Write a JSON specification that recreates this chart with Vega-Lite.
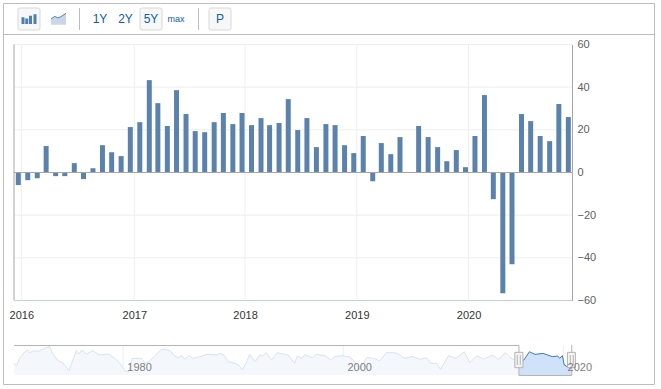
{
"$schema":"https://vega.github.io/schema/vega-lite/v6.json",
"width":661,"height":389,"padding":0,"autosize":{"type":"none"},"background":"white",
"config":{"view":{"stroke":null},"text":{"font":"Liberation Sans"},"axis":{"labelFont":"Liberation Sans"}},
"datasets":{
"bars":[
{"date":"2015-12-22","value":-5.9},{"date":"2016-01-22","value":-3.6},{"date":"2016-02-22","value":-2.7},{"date":"2016-03-22","value":12.4},{"date":"2016-04-22","value":-1.7},{"date":"2016-05-22","value":-1.7},{"date":"2016-06-22","value":4.4},{"date":"2016-07-22","value":-3.1},{"date":"2016-08-22","value":2.0},{"date":"2016-09-22","value":12.8},{"date":"2016-10-22","value":9.5},{"date":"2016-11-22","value":7.7},
{"date":"2016-12-22","value":21.3},{"date":"2017-01-22","value":23.6},{"date":"2017-02-22","value":43.3},{"date":"2017-03-22","value":32.5},{"date":"2017-04-22","value":21.8},{"date":"2017-05-22","value":38.6},{"date":"2017-06-22","value":27.4},{"date":"2017-07-22","value":19.4},{"date":"2017-08-22","value":18.9},{"date":"2017-09-22","value":23.6},{"date":"2017-10-22","value":27.9},{"date":"2017-11-22","value":22.7},
{"date":"2017-12-22","value":27.9},{"date":"2018-01-22","value":22.2},{"date":"2018-02-22","value":25.5},{"date":"2018-03-22","value":22.2},{"date":"2018-04-22","value":23.2},{"date":"2018-05-22","value":34.4},{"date":"2018-06-22","value":19.9},{"date":"2018-07-22","value":25.5},{"date":"2018-08-22","value":11.9},{"date":"2018-09-22","value":22.7},{"date":"2018-10-22","value":22.2},{"date":"2018-11-22","value":12.8},
{"date":"2018-12-22","value":9.1},{"date":"2019-01-22","value":17.1},{"date":"2019-02-22","value":-4.1},{"date":"2019-03-22","value":13.8},{"date":"2019-04-22","value":8.6},{"date":"2019-05-22","value":16.6},{"date":"2019-06-22","value":0.2},{"date":"2019-07-22","value":21.8},{"date":"2019-08-22","value":16.6},{"date":"2019-09-22","value":11.9},{"date":"2019-10-22","value":5.3},{"date":"2019-11-22","value":10.5},
{"date":"2019-12-22","value":2.5},{"date":"2020-01-22","value":17.1},{"date":"2020-02-22","value":36.3},{"date":"2020-03-22","value":-12.5},{"date":"2020-04-22","value":-56.6},{"date":"2020-05-22","value":-43},{"date":"2020-06-22","value":27.4},{"date":"2020-07-22","value":24.1},{"date":"2020-08-22","value":17.1},{"date":"2020-09-22","value":14.7},{"date":"2020-10-22","value":32.1},{"date":"2020-11-22","value":26}
],
"history":[
{"date":"1970-02-01","v":-43},{"date":"1970-05-01","v":-60},{"date":"1970-08-01","v":-1},{"date":"1971-02-01","v":54},{"date":"1971-05-01","v":68},{"date":"1971-07-01","v":46},{"date":"1971-11-01","v":60},{"date":"1972-06-01","v":60},{"date":"1972-11-01","v":82},{"date":"1973-05-01","v":96},{"date":"1973-08-01","v":40},{"date":"1974-02-01","v":-21},{"date":"1974-07-01","v":-37},{"date":"1975-02-01","v":-104},{"date":"1975-05-01","v":-43},{"date":"1975-10-01","v":63},{"date":"1976-01-01","v":35},{"date":"1976-04-01","v":68},{"date":"1976-09-01","v":35},{"date":"1977-04-01","v":63},{"date":"1977-11-01","v":27},{"date":"1978-09-01","v":35},{"date":"1979-04-01","v":-1},{"date":"1979-09-01","v":-37},{"date":"1980-03-01","v":-104},{"date":"1980-07-01","v":-112},{"date":"1980-11-01","v":-1},{"date":"1981-09-01","v":-1},{"date":"1982-01-01","v":-43},{"date":"1982-06-01","v":-21},{"date":"1982-11-01","v":13},{"date":"1983-07-01","v":77},{"date":"1984-04-01","v":63},{"date":"1984-09-01","v":21},{"date":"1985-01-01","v":4},{"date":"1985-05-01","v":21},{"date":"1985-08-01","v":-7},{"date":"1986-01-01","v":21},{"date":"1986-05-01","v":-1},{"date":"1987-01-01","v":13},{"date":"1987-08-01","v":32},{"date":"1988-07-01","v":27},{"date":"1988-11-01","v":40},{"date":"1989-03-01","v":27},{"date":"1989-08-01","v":-29},{"date":"1990-03-01","v":-43},{"date":"1990-07-01","v":-57},{"date":"1990-11-01","v":-98},{"date":"1991-02-01","v":-57},{"date":"1991-07-01","v":32},{"date":"1992-01-01","v":-29},{"date":"1992-06-01","v":27},{"date":"1992-09-01","v":18},{"date":"1993-01-01","v":46},{"date":"1993-07-01","v":-15},{"date":"1994-01-01","v":46},{"date":"1995-01-01","v":27},{"date":"1995-08-01","v":-43},{"date":"1995-11-01","v":18},{"date":"1996-04-01","v":-1},{"date":"1996-07-01","v":29},{"date":"1997-03-01","v":4},{"date":"1997-08-01","v":32},{"date":"1998-05-01","v":21},{"date":"1998-11-01","v":-15},{"date":"1999-04-01","v":13},{"date":"1999-11-01","v":21},{"date":"2000-07-01","v":13},{"date":"2000-12-01","v":-15},{"date":"2001-07-01","v":-93},{"date":"2002-03-01","v":7},{"date":"2002-10-01","v":-1},{"date":"2003-05-01","v":-21},{"date":"2003-12-01","v":46},{"date":"2004-09-01","v":46},{"date":"2005-01-01","v":35},{"date":"2005-08-01","v":-1},{"date":"2006-04-01","v":13},{"date":"2007-01-01","v":-9},{"date":"2007-08-01","v":4},{"date":"2007-12-01","v":-43},{"date":"2008-07-01","v":-43},{"date":"2008-11-01","v":-93},{"date":"2009-08-01","v":21},{"date":"2010-04-01","v":-1},{"date":"2011-01-01","v":54},{"date":"2011-07-01","v":-37},{"date":"2012-03-01","v":21},{"date":"2012-10-01","v":-9},{"date":"2013-08-01","v":27},{"date":"2014-02-01","v":-9},{"date":"2014-10-01","v":46},{"date":"2015-03-01","v":7},{"date":"2015-08-01","v":-15},{"date":"2015-12-20","v":-27}
],
"selected":[
{"date":"2015-12-20","v":-27},{"date":"2016-02-01","v":-29},{"date":"2016-06-01","v":-15},{"date":"2016-12-01","v":54},{"date":"2017-06-01","v":32},{"date":"2018-03-01","v":40},{"date":"2019-01-01","v":13},{"date":"2019-07-01","v":18},{"date":"2019-09-01","v":-1},{"date":"2019-12-01","v":21},{"date":"2020-02-01","v":-57},{"date":"2020-07-01","v":-76},{"date":"2020-10-08","v":-76}
],
"navFrame":[
{"a":"1970-02-01","b":"2015-12-20","lo":106,"hi":106},
{"a":"2015-12-20","b":"2015-12-20","lo":-144,"hi":106},
{"a":"2015-12-20","b":"2020-10-08","lo":-144,"hi":-144},
{"a":"2020-10-08","b":"2020-10-08","lo":-144,"hi":110}
],
"navHandles":[
{"a":"2015-08-05","b":"2016-05-01","lo":-79,"hi":49},
{"a":"2020-05-20","b":"2021-02-05","lo":-79,"hi":49}
],
"navGrips":[
{"a":"2015-10-25","lo":-57,"hi":26},{"a":"2016-02-03","lo":-57,"hi":26},{"a":"2020-08-20","lo":-57,"hi":26},{"a":"2020-11-25","lo":-57,"hi":26}
],
"navGrid":[{"a":"1980-01-01","lo":-140,"hi":106},{"a":"2000-01-01","lo":-140,"hi":106},{"a":"2020-01-01","lo":-140,"hi":106}],
"gridX":[{"date":"2016-01-01"},{"date":"2017-01-04"},{"date":"2018-01-01"},{"date":"2019-01-01"},{"date":"2020-01-01"}],
"gridY":[{"v":40,"s":"2015-12-08","e":"2020-12-04"},{"v":20,"s":"2015-12-08","e":"2020-12-04"},{"v":-20,"s":"2015-12-08","e":"2020-12-04"},{"v":-40,"s":"2015-12-08","e":"2020-12-04"},{"v":60,"s":"2015-12-08","e":"2020-12-04"}],
"toolbar":[
{"item":"bars","slot":0,"kind":"button"},{"item":"5Y","slot":5,"kind":"button"},{"item":"P","slot":8,"kind":"button"},
{"item":"sep1","slot":2,"kind":"sep"},{"item":"sep2","slot":7,"kind":"sep"},
{"item":"1Y","slot":3,"kind":"label"},{"item":"2Y","slot":4,"kind":"label"},{"item":"5Y","slot":5,"kind":"label"},{"item":"P","slot":8,"kind":"label"},{"item":"max","slot":6,"kind":"small"},
{"item":"barIcon","slot":0,"kind":"barIcon"},{"item":"lineIcon","slot":1,"kind":"lineIcon"}
]
},
"data":{"values":[{"a":0,"b":1}]},
"resolve":{"scale":{"x":"independent","y":"independent"},"axis":{"x":"independent","y":"independent"}},
"layer":[
{"mark":{"type":"rect","fill":null,"stroke":"#bdbdbd","strokeWidth":1},
 "data":{"values":[{"a":0,"b":1,"lo":0,"hi":1}]},
 "encoding":{"x":{"field":"a","type":"quantitative","axis":null,"scale":{"domain":[0,1],"range":[3.5,654.5]}},"x2":{"field":"b"},"y":{"field":"lo","type":"quantitative","axis":null,"scale":{"domain":[0,1],"range":[3.5,384.5]}},"y2":{"field":"hi"}}},
{"mark":{"type":"rule","stroke":"#bdbdbd","strokeWidth":1},
 "data":{"values":[{"a":0,"b":1,"lo":0.0814}]},
 "encoding":{"x":{"field":"a","type":"quantitative","axis":null,"scale":{"domain":[0,1],"range":[3.5,654.5]}},"x2":{"field":"b"},"y":{"field":"lo","type":"quantitative","axis":null,"scale":{"domain":[0,1],"range":[3.5,384.5]}}}},
{"data":{"name":"toolbar"},"transform":[{"filter":"datum.kind=='button'"}],
 "mark":{"type":"point","filled":true,"fill":"#f7f7f7","stroke":"#d9d9d9","strokeWidth":1,"opacity":1,"size":484,"shape":"M-0.82,-1H0.82Q1,-1 1,-0.82V0.82Q1,1 0.82,1H-0.82Q-1,1 -1,0.82V-0.82Q-1,-1 -0.82,-1Z"},
 "encoding":{"x":{"field":"slot","type":"quantitative","axis":null,"scale":{"domain":[0,1,2,3,4,5,6,7,8],"range":[29,58.5,79.5,100,125.5,151,176,198.5,220],"nice":false,"zero":false}},"y":{"datum":0.5,"type":"quantitative","axis":null,"scale":{"domain":[0,1],"range":[8,30]}}}},
{"data":{"name":"toolbar"},"transform":[{"filter":"datum.kind=='sep'"}],
 "mark":{"type":"rule","stroke":"#bdbdbd","strokeWidth":1},
 "encoding":{"x":{"field":"slot","type":"quantitative","axis":null,"scale":{"domain":[0,1,2,3,4,5,6,7,8],"range":[29,58.5,79.5,100,125.5,151,176,198.5,220],"nice":false,"zero":false}},"y":{"datum":0,"type":"quantitative","axis":null,"scale":{"domain":[0,1],"range":[8,30]}},"y2":{"datum":1}}},
{"data":{"name":"toolbar"},"transform":[{"filter":"datum.kind=='label'"}],
 "mark":{"type":"text","fontSize":12,"color":"#0b5ea8","align":"center","baseline":"middle"},
 "encoding":{"text":{"field":"item"},"x":{"field":"slot","type":"quantitative","axis":null,"scale":{"domain":[0,1,2,3,4,5,6,7,8],"range":[29,58.5,79.5,100,125.5,151,176,198.5,220],"nice":false,"zero":false}},"y":{"datum":0.5,"type":"quantitative","axis":null,"scale":{"domain":[0,1],"range":[8,30]}}}},
{"data":{"name":"toolbar"},"transform":[{"filter":"datum.kind=='small'"}],
 "mark":{"type":"text","fontSize":9,"color":"#0b5ea8","align":"center","baseline":"middle"},
 "encoding":{"text":{"field":"item"},"x":{"field":"slot","type":"quantitative","axis":null,"scale":{"domain":[0,1,2,3,4,5,6,7,8],"range":[29,58.5,79.5,100,125.5,151,176,198.5,220],"nice":false,"zero":false}},"y":{"datum":0.5,"type":"quantitative","axis":null,"scale":{"domain":[0,1],"range":[8,30]}}}},
{"data":{"name":"toolbar"},"transform":[{"filter":"datum.kind=='barIcon'"}],
 "mark":{"type":"point","filled":true,"fill":"#4f7fb2","stroke":null,"opacity":1,"size":225,"shape":"M-1,-0.25H-0.6V0.65H-1ZM-0.5,-0.07H-0.1V0.65H-0.5ZM0,-0.42H0.4V0.65H0ZM0.6,-0.64H1V0.65H0.6Z"},
 "encoding":{"x":{"field":"slot","type":"quantitative","axis":null,"scale":{"domain":[0,1,2,3,4,5,6,7,8],"range":[29,58.5,79.5,100,125.5,151,176,198.5,220],"nice":false,"zero":false}},"y":{"datum":0.5,"type":"quantitative","axis":null,"scale":{"domain":[0,1],"range":[8,30]}}}},
{"data":{"name":"toolbar"},"transform":[{"filter":"datum.kind=='lineIcon'"}],
 "mark":{"type":"point","filled":true,"fill":"#c9d6ea","stroke":null,"opacity":1,"size":225,"shape":"M-1,0L-0.5,-0.35L-0.1,-0.15L0.3,-0.3L1,-0.75V0.75H-1Z"},
 "encoding":{"x":{"field":"slot","type":"quantitative","axis":null,"scale":{"domain":[0,1,2,3,4,5,6,7,8],"range":[29,58.5,79.5,100,125.5,151,176,198.5,220],"nice":false,"zero":false}},"y":{"datum":0.5,"type":"quantitative","axis":null,"scale":{"domain":[0,1],"range":[8,30]}}}},
{"data":{"name":"toolbar"},"transform":[{"filter":"datum.kind=='lineIcon'"}],
 "mark":{"type":"point","filled":false,"stroke":"#4f7fb2","strokeWidth":1,"opacity":1,"size":225,"shape":"M-1,0L-0.5,-0.35L-0.1,-0.15L0.3,-0.3L1,-0.75"},
 "encoding":{"x":{"field":"slot","type":"quantitative","axis":null,"scale":{"domain":[0,1,2,3,4,5,6,7,8],"range":[29,58.5,79.5,100,125.5,151,176,198.5,220],"nice":false,"zero":false}},"y":{"datum":0.5,"type":"quantitative","axis":null,"scale":{"domain":[0,1],"range":[8,30]}}}},
{"data":{"name":"gridX"},"mark":{"type":"rule","stroke":"#eeeeee","strokeWidth":1},
 "encoding":{"x":{"field":"date","type":"temporal","axis":null,"scale":{"type":"utc","domain":["2015-12-08","2020-12-04"],"range":[14,572]}},"y":{"datum":-60,"type":"quantitative","axis":null,"scale":{"domain":[-60,60],"range":[300.5,44.5],"nice":false}},"y2":{"datum":60}}},
{"data":{"name":"gridY"},"mark":{"type":"rule","stroke":"#eeeeee","strokeWidth":1},
 "encoding":{"x":{"field":"s","type":"temporal","axis":null,"scale":{"type":"utc","domain":["2015-12-08","2020-12-04"],"range":[14,572]}},"x2":{"field":"e"},"y":{"field":"v","type":"quantitative","axis":null,"scale":{"domain":[-60,60],"range":[300.5,44.5],"nice":false}}}},
{"data":{"name":"bars"},"mark":{"type":"bar","size":5,"color":"#5b82ad"},
 "encoding":{"x":{"field":"date","type":"temporal","scale":{"type":"utc","domain":["2015-12-08","2020-12-04"],"range":[14,572],"padding":0},
   "axis":{"orient":"bottom","offset":-89,"values":["2016-01-01","2017-01-04","2018-01-01","2019-01-01","2020-01-01"],"format":"%Y","title":null,"grid":false,"ticks":false,"domainColor":"#c0d0e0","domainWidth":1,"labelColor":"#333333","labelFontSize":11,"labelPadding":9,"labelFlush":false,"labelOverlap":false}},
  "y":{"field":"value","type":"quantitative","scale":{"domain":[-60,60],"range":[300.5,44.5],"nice":false},
   "axis":{"orient":"right","offset":-89,"values":[-60,-40,-20,0,20,40,60],"title":null,"grid":false,"ticks":false,"domainColor":"#a6a6a6","domainWidth":1,"labelColor":"#606060","labelFontSize":11,"labelPadding":5,"labelOverlap":false,"labelFlush":false}}}},
{"data":{"values":[{"s":"2015-12-08","e":"2020-12-04","v":0}]},"mark":{"type":"rule","stroke":"#a6a6a6","strokeWidth":1},
 "encoding":{"x":{"field":"s","type":"temporal","axis":null,"scale":{"type":"utc","domain":["2015-12-08","2020-12-04"],"range":[14,572]}},"x2":{"field":"e"},"y":{"field":"v","type":"quantitative","axis":null,"scale":{"domain":[-60,60],"range":[300.5,44.5],"nice":false}}}},
{"data":{"values":[{"s":"2015-12-08","lo":-60,"hi":60}]},"mark":{"type":"rule","stroke":"#a6a6a6","strokeWidth":1},
 "encoding":{"x":{"field":"s","type":"temporal","axis":null,"scale":{"type":"utc","domain":["2015-12-08","2020-12-04"],"range":[14,572]}},"y":{"field":"lo","type":"quantitative","axis":null,"scale":{"domain":[-60,60],"range":[300.5,44.5],"nice":false}},"y2":{"field":"hi"}}},
{"data":{"name":"navGrid"},"mark":{"type":"rule","stroke":"#eeeeee","strokeWidth":1},
 "encoding":{"x":{"field":"a","type":"temporal","scale":{"type":"utc","domain":["1970-02-01","2020-10-15"],"range":[14,572]},"axis":null},
  "y":{"field":"lo","type":"quantitative","axis":null,"scale":{"domain":[-140,106],"range":[375,345.5],"nice":false}},"y2":{"field":"hi"}}},
{"data":{"name":"history"},"mark":{"type":"area","fill":"#f4f8fd","opacity":1},
 "encoding":{"x":{"field":"date","type":"temporal","axis":null,"scale":{"type":"utc","domain":["1970-02-01","2020-10-15"],"range":[14,572]}},"y":{"field":"v","type":"quantitative","axis":null,"stack":null,"scale":{"domain":[-140,106],"range":[375,345.5],"nice":false}},"y2":{"datum":-140}}},
{"data":{"name":"history"},"mark":{"type":"line","stroke":"#d5e3f2","strokeWidth":1},
 "encoding":{"x":{"field":"date","type":"temporal","axis":null,"scale":{"type":"utc","domain":["1970-02-01","2020-10-15"],"range":[14,572]}},"y":{"field":"v","type":"quantitative","axis":null,"scale":{"domain":[-140,106],"range":[375,345.5],"nice":false}}}},
{"data":{"name":"selected"},"mark":{"type":"area","fill":"#cfe2fa","opacity":1},
 "encoding":{"x":{"field":"date","type":"temporal","axis":null,"scale":{"type":"utc","domain":["1970-02-01","2020-10-15"],"range":[14,572]}},"y":{"field":"v","type":"quantitative","axis":null,"stack":null,"scale":{"domain":[-140,106],"range":[375,345.5],"nice":false}},"y2":{"datum":-140}}},
{"data":{"name":"selected"},"mark":{"type":"line","stroke":"#3f79b5","strokeWidth":1},
 "encoding":{"x":{"field":"date","type":"temporal","axis":null,"scale":{"type":"utc","domain":["1970-02-01","2020-10-15"],"range":[14,572]}},"y":{"field":"v","type":"quantitative","axis":null,"scale":{"domain":[-140,106],"range":[375,345.5],"nice":false}}}},
{"data":{"name":"navFrame"},"mark":{"type":"rule","stroke":"#b3b3b3","strokeWidth":1},
 "encoding":{"x":{"field":"a","type":"temporal","axis":null,"scale":{"type":"utc","domain":["1970-02-01","2020-10-15"],"range":[14,572]}},"x2":{"field":"b"},"y":{"field":"lo","type":"quantitative","axis":null,"scale":{"domain":[-140,106],"range":[375,345.5],"nice":false}},"y2":{"field":"hi"}}},
{"data":{"name":"navHandles"},"mark":{"type":"rect","fill":"#f4f4f4","stroke":"#b3b3b3","strokeWidth":1},
 "encoding":{"x":{"field":"a","type":"temporal","axis":null,"scale":{"type":"utc","domain":["1970-02-01","2020-10-15"],"range":[14,572]}},"x2":{"field":"b"},"y":{"field":"lo","type":"quantitative","axis":null,"scale":{"domain":[-140,106],"range":[375,345.5],"nice":false}},"y2":{"field":"hi"}}},
{"data":{"name":"navGrips"},"mark":{"type":"rule","stroke":"#b3b3b3","strokeWidth":1},
 "encoding":{"x":{"field":"a","type":"temporal","axis":null,"scale":{"type":"utc","domain":["1970-02-01","2020-10-15"],"range":[14,572]}},"y":{"field":"lo","type":"quantitative","axis":null,"scale":{"domain":[-140,106],"range":[375,345.5],"nice":false}},"y2":{"field":"hi"}}},
{"data":{"name":"navGrid"},"mark":{"type":"rule","strokeOpacity":0},
 "encoding":{"x":{"field":"a","type":"temporal","scale":{"type":"utc","domain":["1970-02-01","2020-10-15"],"range":[14,572]},
   "axis":{"orient":"bottom","offset":-22,"values":["1980-01-01","2000-01-01","2020-01-01"],"format":"%Y","title":null,"grid":false,"ticks":false,"domain":false,"labelColor":"#808080","labelFontSize":11,"labelPadding":-6,"labelOffset":16,"labelFlush":false,"labelOverlap":false,"labelBound":false,"zindex":2}},
  "y":{"field":"lo","type":"quantitative","axis":null,"scale":{"domain":[-140,106],"range":[375,345.5],"nice":false}},"y2":{"field":"hi"}}}
]
}
